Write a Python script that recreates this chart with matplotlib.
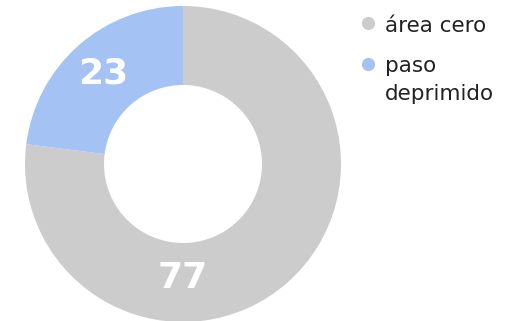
import matplotlib
matplotlib.use("Agg")
import matplotlib.pyplot as plt
from matplotlib.lines import Line2D

categories = ["área cero", "paso\ndeprimido"]
values = [77, 23]
colors = ["#cccccc", "#a4c2f4"]

W, H = 517, 321
fig = plt.figure(figsize=(W / 100, H / 100), dpi=100)
cx, cy, r = 183, H - 164, 158
ax = fig.add_axes([(cx - r) / W, (cy - r) / H, 2 * r / W, 2 * r / H])

wedges, texts, autotexts = ax.pie(
    values, colors=colors, startangle=90, counterclock=False,
    radius=1.0, wedgeprops=dict(width=0.5, edgecolor="none"),
    autopct=lambda p: f"{round(p):d}", pctdistance=0.76,
    textprops=dict(color="white", fontsize=26, fontweight="bold"))
# the large slice's label sits at the bottom of the ring
autotexts[0].set_position((0, -0.72))
ax.set_xlim(-1, 1)
ax.set_ylim(-1, 1)
ax.set_aspect("equal")
ax.axis("off")

# manual legend
mx, tx = 368, 385
marker_y = [22.5, 63.5]
first_baseline = [32, 72]
line_h = 28
for cat, col, my, by in zip(categories, colors, marker_y, first_baseline):
    fig.add_artist(Line2D([mx / W], [1 - my / H], marker="o", linestyle="none",
                          markersize=9.5, markerfacecolor=col,
                          markeredgecolor="none", transform=fig.transFigure))
    for i, line in enumerate(cat.split("\n")):
        fig.text(tx / W, 1 - (by + i * line_h) / H, line, fontsize=15.5,
                 color="#222222", ha="left", va="baseline")

fig.savefig("out.png", dpi=100)
